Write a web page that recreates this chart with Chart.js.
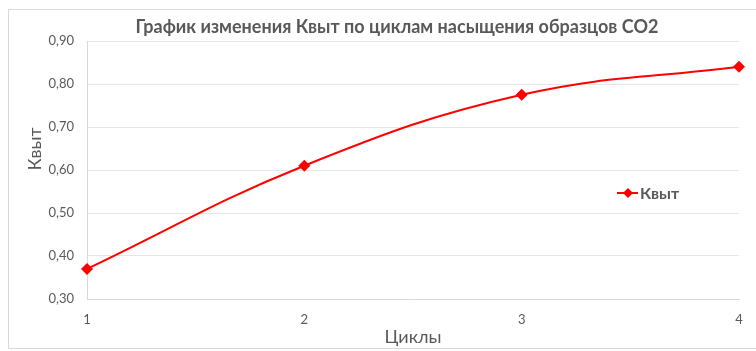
<!DOCTYPE html>
<html>
<head>
<meta charset="utf-8">
<script src="https://cdn.jsdelivr.net/npm/chart.js@4.4.0/dist/chart.umd.min.js"></script>
<style>
  html, body { margin: 0; padding: 0; background: #fff; }
  #wrap { width: 756px; height: 351px; }
</style>
</head>
<body>
<div id="wrap"><canvas id="chart" width="756" height="351"></canvas></div>
<script>
const cycles = [1, 2, 3, 4];
const kvyt = [0.37, 0.61, 0.775, 0.84];
const yTicks = [0.30, 0.40, 0.50, 0.60, 0.70, 0.80, 0.90];
const chartTitle = "График изменения Квыт по циклам насыщения образцов CO2";
const yTitle = "Квыт";
const xTitle = "Циклы";

const red = "#ff0000";
const textGray = "#595959";
const fontFamily = "Lato, 'Open Sans', sans-serif";

// frame, title, y title and legend drawn by hand (Excel-like placement)
const decorPlugin = {
  id: "decor",
  beforeDraw(chart) {
    const ctx = chart.ctx;
    ctx.save();
    ctx.strokeStyle = "#d9d9d9";
    ctx.lineWidth = 1;
    ctx.strokeRect(8.5, 9.5, 760, 339);
    ctx.restore();
  },
  afterDraw(chart) {
    const ctx = chart.ctx;
    ctx.save();
    // title
    ctx.fillStyle = textGray;
    ctx.font = "bold 18px " + fontFamily;
    ctx.textAlign = "center";
    ctx.textBaseline = "middle";
    ctx.fillText(chartTitle, 397, 27);

    // y axis title
    ctx.save();
    ctx.translate(35, 149);
    ctx.rotate(-Math.PI / 2);
    ctx.font = "18px " + fontFamily;
    ctx.fillText(yTitle, 0, 0);
    ctx.restore();

    // legend
    const x = 617, y = 193;
    ctx.strokeStyle = red;
    ctx.lineWidth = 2;
    ctx.beginPath();
    ctx.moveTo(x, y);
    ctx.lineTo(x + 21, y);
    ctx.stroke();
    ctx.fillStyle = red;
    ctx.beginPath();
    ctx.moveTo(x + 11, y - 5);
    ctx.lineTo(x + 16, y);
    ctx.lineTo(x + 11, y + 5);
    ctx.lineTo(x + 6, y);
    ctx.closePath();
    ctx.fill();
    ctx.fillStyle = textGray;
    ctx.font = "bold 16px " + fontFamily;
    ctx.textBaseline = "middle";
    ctx.textAlign = "left";
    ctx.fillText(yTitle, x + 23, y + 1);
    ctx.restore();
  }
};

new Chart(document.getElementById("chart"), {
  type: "line",
  data: {
    datasets: [{
      label: "Квыт",
      data: cycles.map((c, i) => ({ x: c, y: kvyt[i] })),
      borderColor: red,
      backgroundColor: red,
      borderWidth: 2,
      tension: 0.4,
      pointStyle: "rectRot",
      pointRadius: 6,
      pointBackgroundColor: red,
      pointBorderColor: red,
      pointBorderWidth: 0,
      clip: false
    }]
  },
  options: {
    responsive: false,
    animation: false,
    layout: { padding: { left: 0, right: 17, top: 41, bottom: 0 } },
    plugins: {
      legend: { display: false },
      tooltip: { enabled: false },
      title: { display: false }
    },
    scales: {
      x: {
        type: "linear",
        min: 1,
        max: 4,
        afterFit(scale) { scale.height = 52; },
        afterBuildTicks(scale) { scale.ticks = cycles.map(v => ({ value: v })); },
        grid: { display: false, drawTicks: false },
        border: { display: true, color: "#d9d9d9" },
        ticks: {
          padding: 13,
          color: textGray,
          font: { family: fontFamily, size: 13 },
          callback: v => String(v)
        },
        title: {
          display: true,
          text: xTitle,
          color: textGray,
          font: { family: fontFamily, size: 18 },
          padding: { top: 0, bottom: 3 }
        }
      },
      y: {
        min: 0.3,
        max: 0.9,
        afterFit(scale) { scale.width = 87; },
        afterBuildTicks(scale) { scale.ticks = yTicks.map(v => ({ value: v })); },
        grid: { color: "#e6e6e6", drawTicks: false },
        border: { display: true, color: "#d9d9d9" },
        ticks: {
          padding: 13,
          color: textGray,
          font: { family: fontFamily, size: 13 },
          callback: v => v.toFixed(2).replace(".", ",")
        }
      }
    }
  },
  plugins: [decorPlugin]
});
</script>
</body>
</html>
